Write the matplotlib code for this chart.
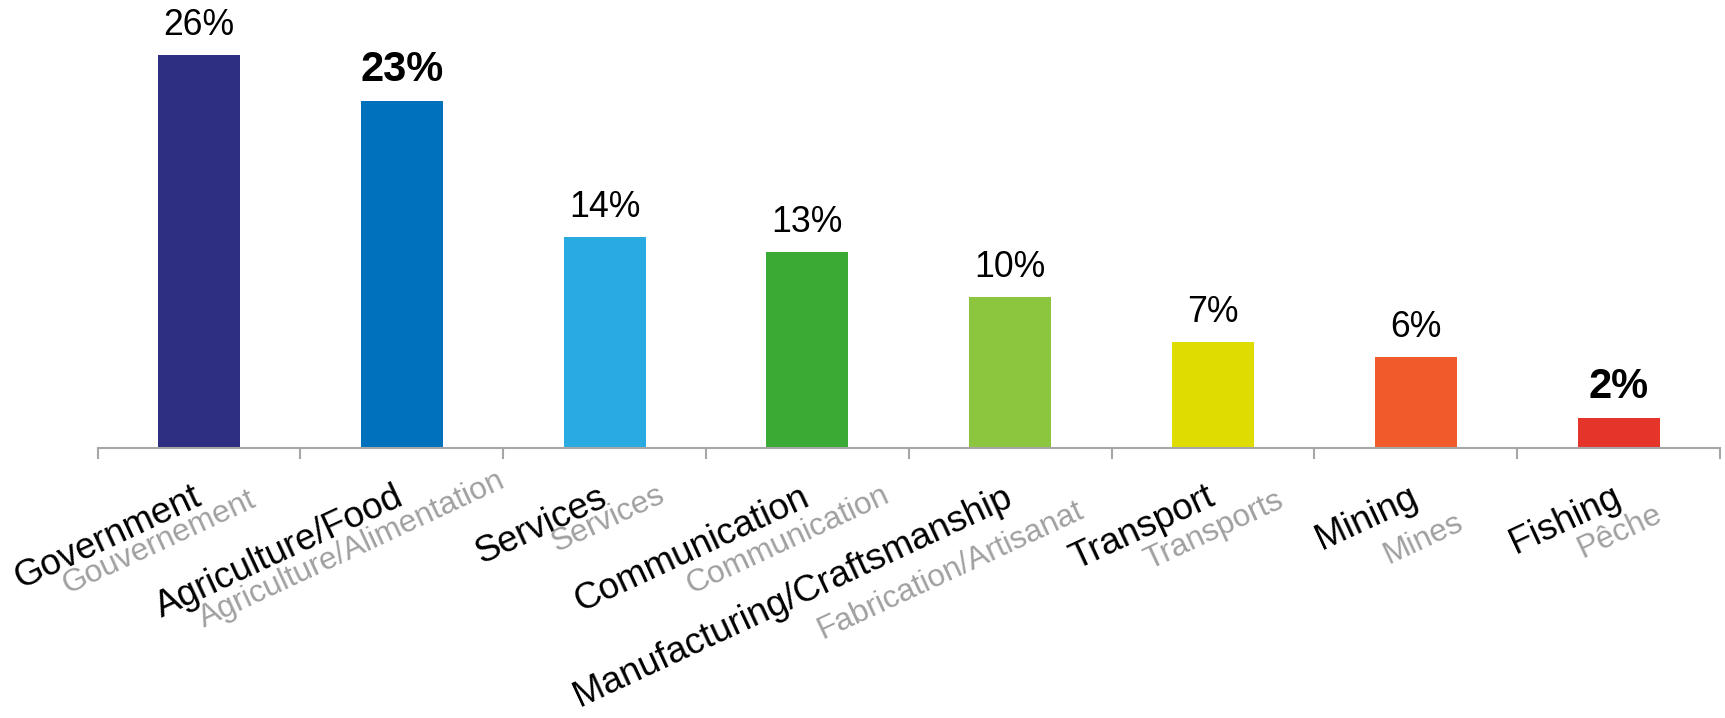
import matplotlib
matplotlib.use("Agg")
import matplotlib.pyplot as plt
import numpy as np

plt.rcParams['font.family'] = ['Liberation Sans', 'DejaVu Sans']

# Sector shares (%)
sectors_en = ["Government", "Agriculture/Food", "Services", "Communication",
              "Manufacturing/Craftsmanship", "Transport", "Mining", "Fishing"]
sectors_fr = ["Gouvernement", "Agriculture/Alimentation", "Services", "Communication",
              "Fabrication/Artisanat", "Transports", "Mines", "Pêche"]
shares = [26, 23, 14, 13, 10, 7, 6, 2]
highlight = [False, True, False, False, False, False, False, True]

colors = ['#2E2E83', '#0071BC', '#29ABE2', '#3AAA35', '#8CC63F', '#DEDC00', '#F15A2B', '#E5352B']

# label placement below the axis, in pixels (dx from bar centre, dy below axis)
en_offset = (4, 56)
fr_offsets = [(58, 57), (105, 38), (62, 53), (84, 53), (75, 68), (72, 58), (49, 80), (45, 72)]

W, H = 1725, 718
fig = plt.figure(figsize=(W / 100, H / 100), dpi=100)
ax = fig.add_axes([97.6 / W, 1 - 448 / H, (1720 - 97.6) / W, 448 / H])

x = np.arange(len(shares))
ax.bar(x, shares, width=0.405, color=colors)

ax.set_xlim(-0.5, len(shares) - 0.5)
ax.set_ylim(0, 448 / 15.1)

for s in ['top', 'right', 'left']:
    ax.spines[s].set_visible(False)
ax.spines['bottom'].set_color('#A6A6A6')
ax.spines['bottom'].set_linewidth(1.5)
ax.set_yticks([])
ax.set_xticks(np.arange(-0.5, len(shares)))
ax.set_xticklabels([])
ax.tick_params(axis='x', direction='out', length=8, width=1.5, color='#A6A6A6')

px = 0.72  # points per pixel at 100 dpi
for i, v in enumerate(shares):
    ax.annotate(f"{v}%", xy=(i, v), xytext=(0, 20 * px), textcoords='offset points',
                ha='center', va='baseline',
                fontsize=30 if highlight[i] else 25.7,
                fontweight='bold' if highlight[i] else 'normal', color='black')
    ax.annotate(sectors_en[i], xy=(i, 0), xytext=(en_offset[0] * px, -en_offset[1] * px),
                textcoords='offset points', ha='right', va='baseline',
                rotation=25, rotation_mode='anchor', fontsize=26.5, color='black',
                annotation_clip=False)
    dx, dy = fr_offsets[i]
    ax.annotate(sectors_fr[i], xy=(i, 0), xytext=(dx * px, -dy * px),
                textcoords='offset points', ha='right', va='baseline',
                rotation=25, rotation_mode='anchor', fontsize=22.8, color='#A0A0A0',
                annotation_clip=False)

fig.savefig("out.png", dpi=100)
